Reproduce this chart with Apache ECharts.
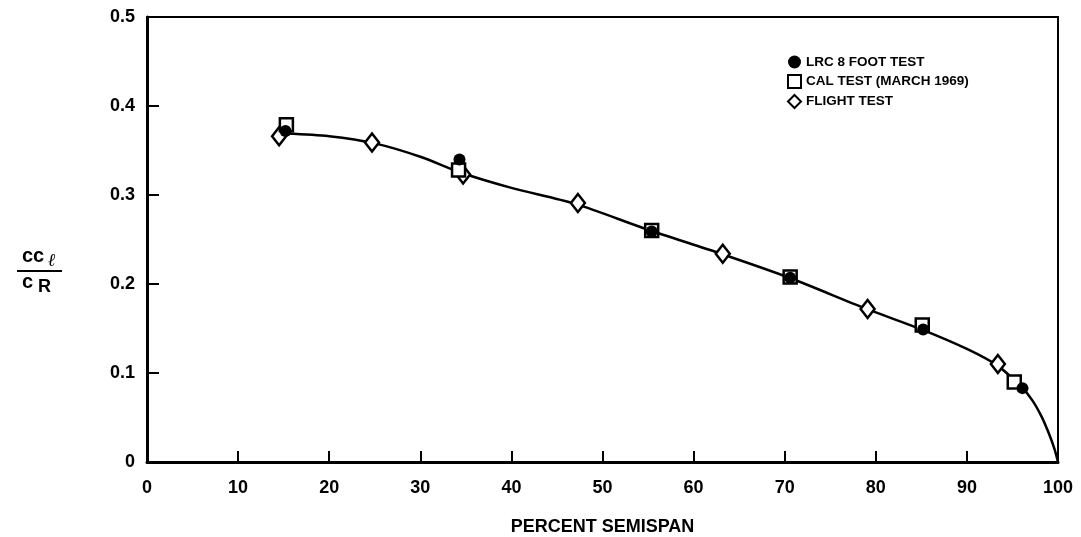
<!DOCTYPE html>
<html>
<head>
<meta charset="utf-8">
<script src="https://cdn.jsdelivr.net/npm/echarts@6/dist/echarts.min.js"></script>
<style>
html,body{margin:0;padding:0;background:#fff;}
#c{width:1081px;height:537px;}
</style>
</head>
<body>
<div id="c"></div>
<script>
// ---- data ----
const xTicks = [0,10,20,30,40,50,60,70,80,90,100];
const yTicks = [0,0.1,0.2,0.3,0.4,0.5];
const seriesNames = ['LRC 8 FOOT TEST','CAL TEST (MARCH 1969)','FLIGHT TEST'];
const lrcX = [15.2, 34.3, 55.4, 70.6, 85.2, 96.1];
const lrcY = [0.372, 0.340, 0.259, 0.207, 0.149, 0.083];
const calX = [15.3, 34.2, 55.4, 70.6, 85.1, 95.2];
const calY = [0.379, 0.328, 0.260, 0.208, 0.154, 0.090];
const fltX = [14.5, 24.7, 34.7, 47.3, 63.2, 79.1, 93.4];
const fltY = [0.366, 0.359, 0.323, 0.291, 0.234, 0.172, 0.110];
const fairX = [15.3, 20, 25, 30, 34.5, 40, 47, 55, 63, 70.5, 79, 85, 90, 93.4, 96, 97.2, 98.2, 99.0, 99.6, 100];
const fairY = [0.369, 0.366, 0.358, 0.343, 0.325, 0.308, 0.290, 0.261, 0.234, 0.207, 0.172, 0.149, 0.127, 0.108, 0.084, 0.069, 0.051, 0.032, 0.015, 0.0];

const zip = (a,b) => a.map((v,i)=>[v,b[i]]);
const chart = echarts.init(document.getElementById('c'));
const bold = {fontFamily:'Liberation Sans', fontWeight:'bold', color:'#000'};
chart.setOption({
  backgroundColor:'#fff',
  animation:false,
  grid:{left:147,right:23,top:17,bottom:75,show:true,borderColor:'#000',borderWidth:2,backgroundColor:'transparent',outerBoundsMode:'none',containLabel:false},
  xAxis:{
    type:'value',min:0,max:100,interval:10,
    axisLine:{show:true,lineStyle:{color:'#000',width:3}},
    axisTick:{show:true,inside:true,length:11,lineStyle:{color:'#000',width:2}},
    splitLine:{show:false},
    axisLabel:{...bold,fontFamily:'Liberation Sans Narrow, Liberation Sans',fontSize:18,margin:17,
      formatter:v=>xTicks.includes(v)?String(v):''},
    name:'PERCENT SEMISPAN',nameLocation:'middle',nameGap:56,
    nameTextStyle:{...bold,fontFamily:'Liberation Sans Narrow, Liberation Sans',fontSize:18}
  },
  yAxis:{
    type:'value',min:0,max:0.5,interval:0.1,
    axisLine:{show:true,lineStyle:{color:'#000',width:3}},
    axisTick:{show:true,inside:true,length:12,lineStyle:{color:'#000',width:2}},
    splitLine:{show:false},
    axisLabel:{...bold,fontSize:18,margin:12,
      formatter:v=>{const t=yTicks.find(k=>Math.abs(k-v)<1e-9);return t===0?'0':(t!==undefined?t.toFixed(1):'');}}
  },
  legend:{
    data:seriesNames,orient:'vertical',left:787,top:55,itemGap:5,itemWidth:13,itemHeight:13,
    textStyle:{...bold,fontSize:13.5},padding:0
  },
  graphic:[
    {type:'text',left:22,top:246,style:{text:'cc',font:'bold 20px "Liberation Sans"',fill:'#000'}},
    {type:'text',left:48,top:252,style:{text:'ℓ',font:'italic bold 18px "DejaVu Serif"',fill:'#000'}},
    {type:'line',shape:{x1:17,y1:271,x2:62,y2:271},style:{stroke:'#000',lineWidth:2}},
    {type:'text',left:22,top:272,style:{text:'c',font:'bold 20px "Liberation Sans"',fill:'#000'}},
    {type:'text',left:38,top:278,style:{text:'R',font:'bold 18px "Liberation Sans"',fill:'#000'}}
  ],
  series:[
    {name:'fairing',type:'line',data:zip(fairX,fairY),smooth:0.3,showSymbol:false,symbol:'none',
      lineStyle:{color:'#000',width:2.5},z:2,silent:true},
    {name:seriesNames[0],type:'scatter',data:zip(lrcX,lrcY),symbol:'circle',symbolSize:12,
      itemStyle:{color:'#000',opacity:1},z:5},
    {name:seriesNames[1],type:'scatter',data:zip(calX,calY),symbol:'rect',symbolSize:13,
      itemStyle:{color:'#fff',borderColor:'#000',borderWidth:2.5,opacity:1},z:4},
    {name:seriesNames[2],type:'scatter',data:zip(fltX,fltY),symbol:'diamond',symbolSize:[14,18],
      itemStyle:{color:'#fff',borderColor:'#000',borderWidth:2.5,opacity:1},z:3}
  ]
});
</script>
</body>
</html>
